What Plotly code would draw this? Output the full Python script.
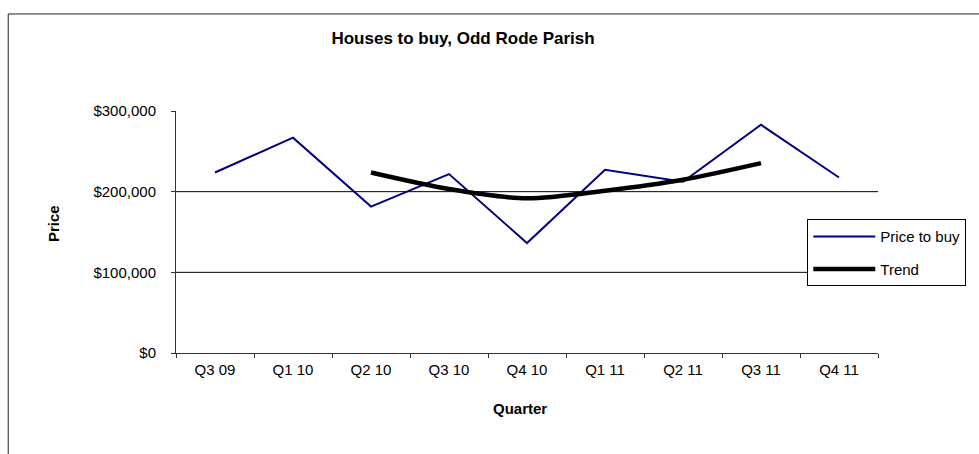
import plotly.graph_objects as go

quarters = ["Q3 09", "Q1 10", "Q2 10", "Q3 10", "Q4 10", "Q1 11", "Q2 11", "Q3 11", "Q4 11"]
price_to_buy = [223800, 266900, 181500, 221800, 136300, 227100, 212300, 282900, 217600]
trend_quarters = ["Q2 10", "Q3 10", "Q4 10", "Q1 11", "Q2 11", "Q3 11"]
trend_values = [223800, 203300, 191700, 201200, 214800, 235400]
y_ticks = [0, 100000, 200000, 300000]
y_tick_labels = ["$0", "$100,000", "$200,000", "$300,000"]
grid_values = [100000, 200000]

FONT = "Liberation Sans, Arial, sans-serif"

fig = go.Figure()
fig.add_trace(go.Scatter(
    x=quarters, y=price_to_buy, mode="lines", name="Price to buy",
    line=dict(color="#000080", width=2), legendgroup="a"))
fig.add_trace(go.Scatter(
    x=trend_quarters, y=trend_values, mode="lines", name="Trend",
    line=dict(color="black", width=4.5, shape="spline", smoothing=0.8), legendgroup="b"))

shapes = []
for g in grid_values:
    shapes.append(dict(type="line", xref="paper", x0=0, x1=1, yref="y", y0=g, y1=g,
                       line=dict(color="black", width=1), layer="below"))
# outer chart border
shapes.append(dict(type="rect", xref="paper", yref="paper", x0=-0.239, x1=1.2, y0=-0.6, y1=1.401,
                   line=dict(color="#222", width=1), fillcolor="rgba(0,0,0,0)"))

fig.update_layout(
    width=979, height=454,
    margin=dict(l=176, r=101, t=111, b=101),
    paper_bgcolor="white", plot_bgcolor="white",
    font=dict(family=FONT, size=15, color="black"),
    title=dict(text="<b>Houses to buy, Odd Rode Parish</b>", x=0.473, xanchor="center",
               y=1 - 38.5 / 454, yanchor="middle", font=dict(size=17, family=FONT)),
    xaxis=dict(type="category", categoryorder="array", categoryarray=quarters,
               range=[-0.5, len(quarters) - 0.5],
               showline=True, linecolor="#333", linewidth=1,
               ticks="outside", ticklen=4, tickcolor="#333", tickson="boundaries",
               showgrid=False, zeroline=False, tickfont=dict(size=15),
               ticklabelstandoff=3),
    yaxis=dict(range=[0, 300000], tickvals=y_ticks, ticktext=y_tick_labels,
               showline=True, linecolor="#333", linewidth=1,
               ticks="outside", ticklen=4, tickcolor="#333",
               showgrid=False, zeroline=False, tickfont=dict(size=15),
               ticklabelstandoff=12),
    legend=dict(x=(807.3 - 176) / 702, y=(353 - 219.3) / 242, xanchor="left", yanchor="top",
                bordercolor="black", borderwidth=1, bgcolor="white",
                font=dict(size=15, family=FONT), tracegroupgap=10, itemwidth=62),
    shapes=shapes,
    annotations=[
        dict(text="<b>Price</b>", xref="paper", yref="paper", x=(53 - 176) / 702, y=(353 - 224) / 242,
             textangle=-90, showarrow=False, xanchor="center", yanchor="middle", font=dict(size=15)),
        dict(text="<b>Quarter</b>", xref="paper", yref="paper", x=(519.5 - 176) / 702, y=(353 - 408) / 242,
             showarrow=False, xanchor="center", yanchor="middle", font=dict(size=15)),
    ],
)

fig.write_html("out.html", config={"displayModeBar": False},
               post_script="document.body.style.margin='0';document.body.style.overflow='hidden';")
